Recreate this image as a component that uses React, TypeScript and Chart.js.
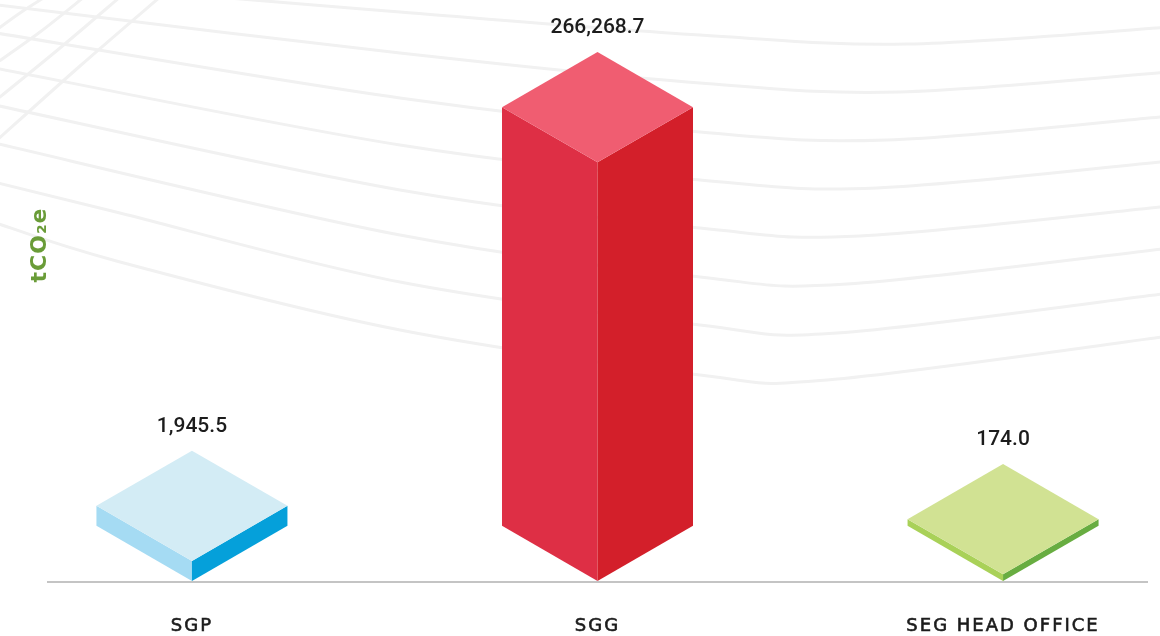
import React, { useEffect, useRef } from 'react';
import { Chart, registerables, LinearScale } from 'chart.js';

Chart.register(...registerables);

// ---------------- data ----------------
const categories: string[] = ['SGP', 'SGG', 'SEG HEAD OFFICE'];
const emissions: number[] = [1945.5, 266268.7, 174.0];
const axisTitle = 'tCO\u2082e';

// ---------------- styles ----------------
const topColors = ['#d3ecf5', '#f05d71', '#d1e293'];
const leftColors = ['#a5dbf3', '#de2f45', '#a9d158'];
const rightColors = ['#05a0da', '#d31f2a', '#68ad41'];

const POW_EXP = 0.6525;
const Y_MIN = -236;
const Y_MAX = 400000;
const X_MIN = -0.355;
const X_MAX = 2.355;

const decoCurves: number[][][] = [
  [[180, -6], [400, 12], [700, 35], [907, 44], [1170, 27]],
  [[-10, 4], [400, 53], [700, 83], [900, 92], [1170, 72]],
  [[-10, 32], [400, 98], [700, 132], [887, 140], [1170, 116]],
  [[-10, 67], [400, 145], [700, 180], [877, 188], [1170, 161]],
  [[-10, 104], [400, 190], [700, 228], [860, 236], [1170, 206]],
  [[-10, 142], [400, 235], [700, 277], [847, 284], [1170, 248]],
  [[-10, 181], [120, 213], [400, 282], [700, 325], [837, 333], [1170, 293]],
  [[-10, 221], [120, 262], [400, 330], [700, 375], [827, 380], [1170, 336]],
  [[-5, 142], [80, 66], [160, -3]],
  [[-5, 101], [60, 48], [120, -3]],
  [[-5, 64], [40, 32], [84, -3]],
  [[-5, 31], [20, 13], [45, -3]],
];

const powF = (v: number) => Math.sign(v) * Math.pow(Math.abs(v), POW_EXP);

class PowScale extends LinearScale {
  static id = 'pow';
  static defaults = LinearScale.defaults;
  getPixelForValue(value: any) {
    if (value === null || value === undefined || isNaN(value)) return NaN;
    const t0 = powF(this.min);
    const t1 = powF(this.max);
    return this.getPixelForDecimal((powF(value) - t0) / (t1 - t0));
  }
  getValueForPixel(pixel: number) {
    const t0 = powF(this.min);
    const t1 = powF(this.max);
    const t = t0 + this.getDecimalForPixel(pixel) * (t1 - t0);
    return Math.sign(t) * Math.pow(Math.abs(t), 1 / POW_EXP);
  }
}
Chart.register(PowScale as any);

function strokeSmooth(ctx: CanvasRenderingContext2D, pts: number[][]) {
  ctx.beginPath();
  ctx.moveTo(pts[0][0], pts[0][1]);
  for (let i = 0; i < pts.length - 1; i++) {
    const p0 = pts[i - 1] || pts[i];
    const p1 = pts[i];
    const p2 = pts[i + 1];
    const p3 = pts[i + 2] || p2;
    ctx.bezierCurveTo(
      p1[0] + (p2[0] - p0[0]) / 6, p1[1] + (p2[1] - p0[1]) / 6,
      p2[0] - (p3[0] - p1[0]) / 6, p2[1] - (p3[1] - p1[1]) / 6,
      p2[0], p2[1]
    );
  }
  ctx.stroke();
}

const fmt = (v: number) =>
  v.toLocaleString('en-US', { minimumFractionDigits: 1, maximumFractionDigits: 1 });

const isoPlugin = {
  id: 'iso',
  beforeDraw(chart: any) {
    const { ctx, width, height } = chart;
    ctx.save();
    ctx.fillStyle = '#ffffff';
    ctx.fillRect(0, 0, width, height);
    ctx.strokeStyle = '#f1f1f1';
    ctx.lineWidth = 3;
    ctx.lineCap = 'round';
    decoCurves.forEach((c) => strokeSmooth(ctx, c));
    ctx.translate(40, 245);
    ctx.rotate(-Math.PI / 2);
    (ctx as any).letterSpacing = '1px';
    ctx.font = 'bold 22px "DejaVu Sans"';
    ctx.fillStyle = '#6a9c38';
    ctx.textAlign = 'center';
    ctx.textBaseline = 'middle';
    ctx.fillText(axisTitle, 0, 0);
    ctx.restore();
    (ctx as any).letterSpacing = '2px';
  },
  afterDatasetsDraw(chart: any) {
    const { ctx, chartArea } = chart;
    const meta = chart.getDatasetMeta(0);
    const base = chartArea.bottom - 1;
    ctx.save();
    (ctx as any).letterSpacing = '0px';
    meta.data.forEach((bar: any, i: number) => {
      const { x, y, width } = bar.getProps(['x', 'y', 'width'], true);
      const hw = width / 2;
      const d = hw * Math.tan(Math.PI / 6);
      ctx.fillStyle = leftColors[i];
      ctx.beginPath();
      ctx.moveTo(x - hw, y - d);
      ctx.lineTo(x, y);
      ctx.lineTo(x, base);
      ctx.lineTo(x - hw, base - d);
      ctx.closePath();
      ctx.fill();
      ctx.fillStyle = rightColors[i];
      ctx.beginPath();
      ctx.moveTo(x + hw, y - d);
      ctx.lineTo(x, y);
      ctx.lineTo(x, base);
      ctx.lineTo(x + hw, base - d);
      ctx.closePath();
      ctx.fill();
      ctx.fillStyle = topColors[i];
      ctx.beginPath();
      ctx.moveTo(x, y);
      ctx.lineTo(x - hw, y - d);
      ctx.lineTo(x, y - 2 * d);
      ctx.lineTo(x + hw, y - d);
      ctx.closePath();
      ctx.fill();
      ctx.font = '500 21px Roboto';
      ctx.fillStyle = '#1c1c1c';
      ctx.textAlign = 'center';
      ctx.textBaseline = 'alphabetic';
      ctx.fillText(fmt(emissions[i]), x, y - 2 * d - 19);
    });
    ctx.restore();
  },
  afterDraw(chart: any) {
    (chart.ctx as any).letterSpacing = '0px';
  },
};

export default function App() {
  const canvasRef = useRef<HTMLCanvasElement>(null);

  useEffect(() => {
    if (!canvasRef.current) return;
    const chart = new Chart(canvasRef.current, {
      type: 'bar',
      data: {
        datasets: [
          {
            label: 'tCO2e',
            data: emissions.map((v, i) => ({ x: i, y: v })),
            backgroundColor: 'rgba(0,0,0,0)',
            borderWidth: 0,
            barPercentage: 0.471,
            categoryPercentage: 1,
          },
        ],
      },
      options: {
        responsive: false,
        devicePixelRatio: 1,
        animation: false,
        layout: { padding: { top: 36, left: 48, right: 13, bottom: 0 } },
        plugins: { legend: { display: false }, tooltip: { enabled: false } },
        scales: {
          x: {
            type: 'linear',
            offset: false,
            bounds: 'data',
            min: X_MIN,
            max: X_MAX,
            grid: { display: false, drawTicks: false },
            border: { display: true, color: '#c4c4c4', width: 2 },
            afterBuildTicks: (s: any) => {
              s.ticks = categories.map((_, i) => ({ value: i }));
            },
            ticks: {
              autoSkip: false,
              maxRotation: 0,
              padding: 34,
              color: '#1b1b1b',
              textStrokeColor: '#1b1b1b',
              textStrokeWidth: 0.6,
              font: { family: '"DejaVu Sans"', size: 18 },
              callback: (v: any) => categories[v] ?? '',
            },
            afterFit: (s: any) => {
              s.height = 54;
            },
          },
          y: {
            type: 'pow' as any,
            display: false,
            bounds: 'data',
            min: Y_MIN,
            max: Y_MAX,
          },
        },
      } as any,
      plugins: [isoPlugin],
    });
    return () => chart.destroy();
  }, []);

  return (
    <div style={{ position: 'fixed', left: 0, top: 0, width: 1160, height: 636, background: '#fff' }}>
      <canvas ref={canvasRef} width={1160} height={636} style={{ display: 'block' }} />
    </div>
  );
}
